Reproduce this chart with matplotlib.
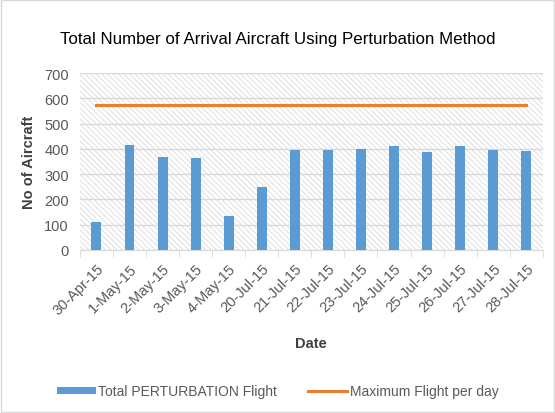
import matplotlib.pyplot as plt
import numpy as np

dates = ['30-Apr-15', '1-May-15', '2-May-15', '3-May-15', '4-May-15', '20-Jul-15',
         '21-Jul-15', '22-Jul-15', '23-Jul-15', '24-Jul-15', '25-Jul-15', '26-Jul-15',
         '27-Jul-15', '28-Jul-15']
perturbation = [110, 416, 366, 362, 133, 249, 394, 394, 398, 412, 387, 410, 394, 390]
max_per_day = [575] * len(dates)


def main():
    plt.rcParams['font.family'] = ['Liberation Sans', 'DejaVu Sans']
    plt.rcParams['hatch.color'] = '#d9d9d9'
    plt.rcParams['hatch.linewidth'] = 0.6

    fig = plt.figure(figsize=(5.55, 4.14), dpi=100)
    fig.patches.append(plt.Rectangle((0.002, 0.002), 0.996, 0.996, transform=fig.transFigure,
                                     fill=False, edgecolor='#d9d9d9', linewidth=1))
    ax = fig.add_axes([0.144, 0.394, 0.834, 0.427])

    x = np.arange(len(dates))
    ax.patch.set_facecolor('white')
    ax.patch.set_hatch('\\\\\\\\\\\\')
    ax.patch.set_edgecolor('#d9d9d9')

    bars = ax.bar(x, perturbation, width=0.3, color='#5b9bd5', zorder=3)
    line, = ax.plot(x, max_per_day, color='#ed7d31', linewidth=2.2, zorder=4)

    ax.set_xlim(-0.5, len(dates) - 0.5)
    ax.set_ylim(0, 700)
    ax.set_yticks(range(0, 701, 100))
    ax.grid(axis='y', color='#d9d9d9', linewidth=1, zorder=1)
    ax.set_axisbelow(True)

    ax.set_xticks(x)
    ax.set_xticklabels(dates, rotation=45, ha='right', rotation_mode='anchor', fontsize=10.5, color='#595959')
    ax.tick_params(axis='x', length=0, pad=8)
    ax.set_xticks(np.arange(-0.5, len(dates), 1), minor=True)
    ax.tick_params(axis='x', which='minor', length=5, color='#d9d9d9')
    ax.tick_params(axis='y', length=0, labelsize=10.5, labelcolor='#595959', pad=8)

    for s in ['top', 'right', 'left']:
        ax.spines[s].set_visible(False)
    ax.spines['bottom'].set_color('#d9d9d9')

    ax.set_xlabel('Date', fontsize=10.5, fontweight='bold', color='#404040', labelpad=14)
    ax.set_ylabel('No of Aircraft', fontsize=10.5, fontweight='bold', color='#404040', labelpad=6)
    fig.text(0.5, 0.905, 'Total Number of Arrival Aircraft Using Perturbation Method',
             ha='center', va='center', fontsize=12.2, color='black')

    fig.legend([bars, line], ['Total PERTURBATION Flight', 'Maximum Flight per day'],
               loc='center', bbox_to_anchor=(0.5, 0.052), ncol=2, frameon=False,
               fontsize=10, labelcolor='#595959', handlelength=2.8, columnspacing=2.2,
               handletextpad=0.2, handleheight=0.5)

    fig.savefig('out.png', dpi=100)


if __name__ == "__main__":
    main()
